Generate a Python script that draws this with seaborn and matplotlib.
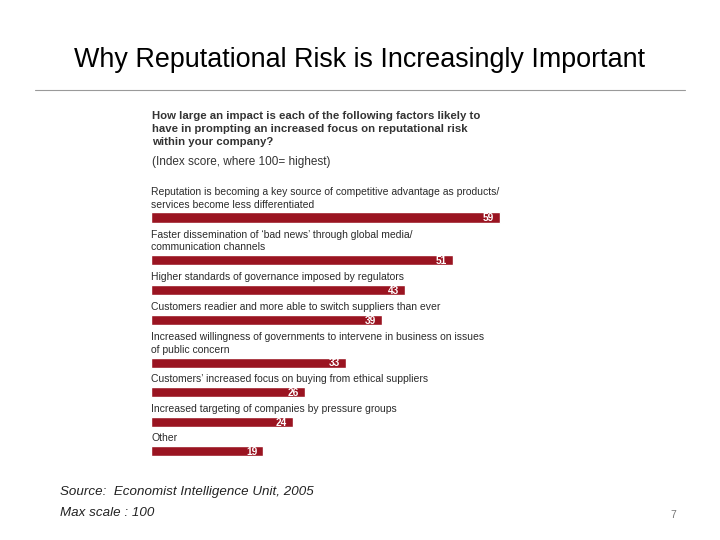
import matplotlib
matplotlib.use("Agg")
import matplotlib.pyplot as plt
import seaborn as sns
import pandas as pd

# Chart data
labels = [
    "Reputation is becoming a key source of competitive advantage as products/\nservices become less differentiated",
    "Faster dissemination of \u2018bad news\u2019 through global media/\ncommunication channels",
    "Higher standards of governance imposed by regulators",
    "Customers readier and more able to switch suppliers than ever",
    "Increased willingness of governments to intervene in business on issues\nof public concern",
    "Customers\u2019 increased focus on buying from ethical suppliers",
    "Increased targeting of companies by pressure groups",
    "Other",
]
scores = [59, 51, 43, 39, 33, 26, 24, 19]

title = "Why Reputational Risk is Increasingly Important"
question = ("How large an impact is each of the following factors likely to\n"
            "have in prompting an increased focus on reputational risk\n"
            "within your company?")
subtitle = "(Index score, where 100= highest)"
source_lines = ["Source:  Economist Intelligence Unit, 2005", "Max scale : 100"]
page_no = "7"

BAR_RED = "#9a1421"
TEXT = "#2b2b2b"

sns.set_theme(style="white")
plt.rcParams["font.family"] = ["Liberation Sans", "DejaVu Sans"]

# bar positions: extra room where a label wraps onto two lines
positions = [0.0]
for lab in labels[1:]:
    positions.append(positions[-1] + 1 + 0.45 * lab.count("\n"))

df = pd.DataFrame({"score": scores, "pos": positions})

W, H = 720, 540
fig = plt.figure(figsize=(W / 100, H / 100), dpi=100)

# axes placement in pixels
px_per_unit_x = 5.915
px_per_unit_y = 29.6
first_center = 217.5
ax_left, ax_top, ax_bottom = 151, 180, 475
ax_w = 60 * px_per_unit_x
ax = fig.add_axes([ax_left / W, 1 - ax_bottom / H, ax_w / W, (ax_bottom - ax_top) / H])

sns.barplot(data=df, x="score", y="pos", orient="h", native_scale=True,
            color=BAR_RED, width=0.34, saturation=1, ax=ax)

ax.set_xlim(0, 60)
y_top = -(first_center - ax_top) / px_per_unit_y
y_bot = y_top + (ax_bottom - ax_top) / px_per_unit_y
ax.set_ylim(y_bot, y_top)
ax.axis("off")

for lab, val, p in zip(labels, scores, positions):
    ax.text(0, p - 0.27, lab, ha="left", va="bottom", fontsize=7.5,
            color=TEXT, linespacing=1.3, clip_on=False)
    ax.text(val - 1.0, p + 0.03, str(val), ha="right", va="center",
            fontsize=7.3, fontweight="bold", color="white")

# heading and question
fig.text(0.5, 1 - 60 / H, title, ha="center", va="center", fontsize=19.4,
         color="black")
fig.add_artist(plt.Line2D([35 / W, 685 / W], [1 - 90 / H, 1 - 90 / H],
                          color="#9a9a9a", linewidth=0.8))
fig.text(152 / W, 1 - 111 / H, question, ha="left", va="top", fontsize=8.2,
         fontweight="bold", color="#333333", linespacing=1.35)
fig.text(152 / W, 1 - 162 / H, subtitle, ha="left", va="center", fontsize=8.5,
         color="#333333")

# footer
fig.text(60 / W, 1 - 492 / H, source_lines[0], ha="left", va="center",
         fontsize=9.6, style="italic", color="#222222")
fig.text(60 / W, 1 - 513 / H, source_lines[1], ha="left", va="center",
         fontsize=9.6, style="italic", color="#222222")
fig.text(673 / W, 1 - 515 / H, page_no, ha="center", va="center",
         fontsize=7.5, color="#777777")

fig.savefig("out.png", dpi=100)
